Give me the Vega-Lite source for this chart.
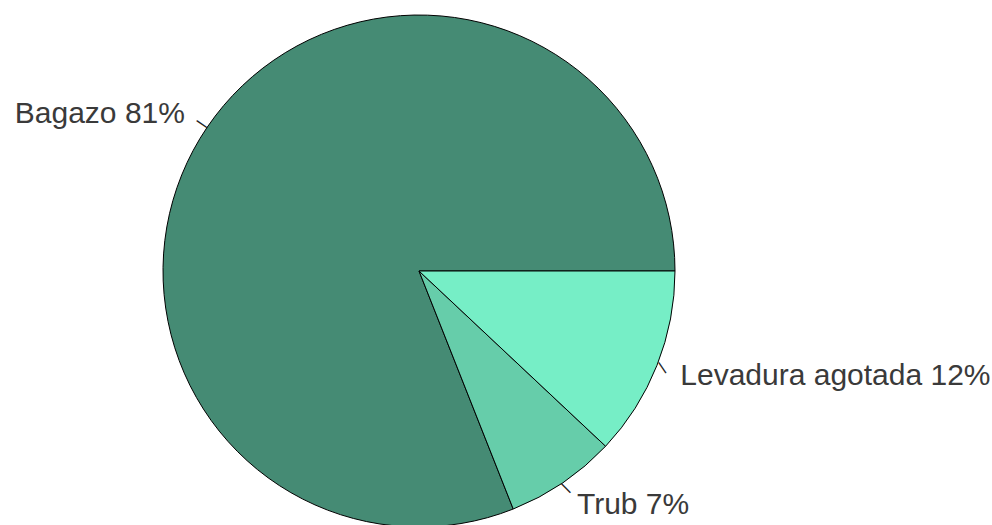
{
  "$schema": "https://vega.github.io/schema/vega-lite/v6.json",
  "width": 838,
  "height": 512,
  "padding": {"left": 0, "top": 13, "right": 0, "bottom": 0},
  "background": "white",
  "view": {"stroke": null},
  "data": {
    "values": [
      {"categoria": "Bagazo", "porcentaje": 81, "orden": 1, "etiqueta": "Bagazo 81%"},
      {"categoria": "Trub", "porcentaje": 7, "orden": 2, "etiqueta": "Trub 7%"},
      {"categoria": "Levadura agotada", "porcentaje": 12, "orden": 3, "etiqueta": "Levadura agotada 12%"}
    ]
  },
  "encoding": {
    "theta": {"field": "porcentaje", "type": "quantitative", "stack": true, "scale": {"range": [1.5708, -4.7124]}},
    "order": {"field": "orden", "type": "quantitative"}
  },
  "layer": [
    {
      "mark": {"type": "arc", "stroke": "black", "strokeWidth": 1, "outerRadius": 256},
      "encoding": {
        "color": {
          "field": "categoria",
          "type": "nominal",
          "scale": {"domain": ["Bagazo", "Trub", "Levadura agotada"], "range": ["#458B74", "#66CDAA", "#76EEC6"]},
          "legend": null
        }
      }
    },
    {
      "mark": {"type": "text", "radius": 262, "fontSize": 13, "color": "#222222", "text": "—", "font": "Liberation Sans", "fontWeight": "bold"},
      "encoding": {
        "angle": {
          "field": "categoria",
          "type": "nominal",
          "scale": {"domain": ["Bagazo", "Trub", "Levadura agotada"], "range": [34.2, 55.8, 21.6]},
          "legend": null
        }
      }
    },
    {
      "mark": {"type": "text", "radius": 283, "align": "right", "baseline": "middle", "dy": 2, "fontSize": 30, "font": "Liberation Sans", "color": "#3a3a3a"},
      "encoding": {
        "text": {"condition": {"test": "datum.categoria === 'Bagazo'", "field": "etiqueta"}, "value": ""}
      }
    },
    {
      "mark": {"type": "text", "radius": 281, "align": "left", "baseline": "middle", "dy": 2, "fontSize": 30, "font": "Liberation Sans", "color": "#3a3a3a"},
      "encoding": {
        "text": {"condition": {"test": "datum.categoria !== 'Bagazo'", "field": "etiqueta"}, "value": ""}
      }
    }
  ]
}
